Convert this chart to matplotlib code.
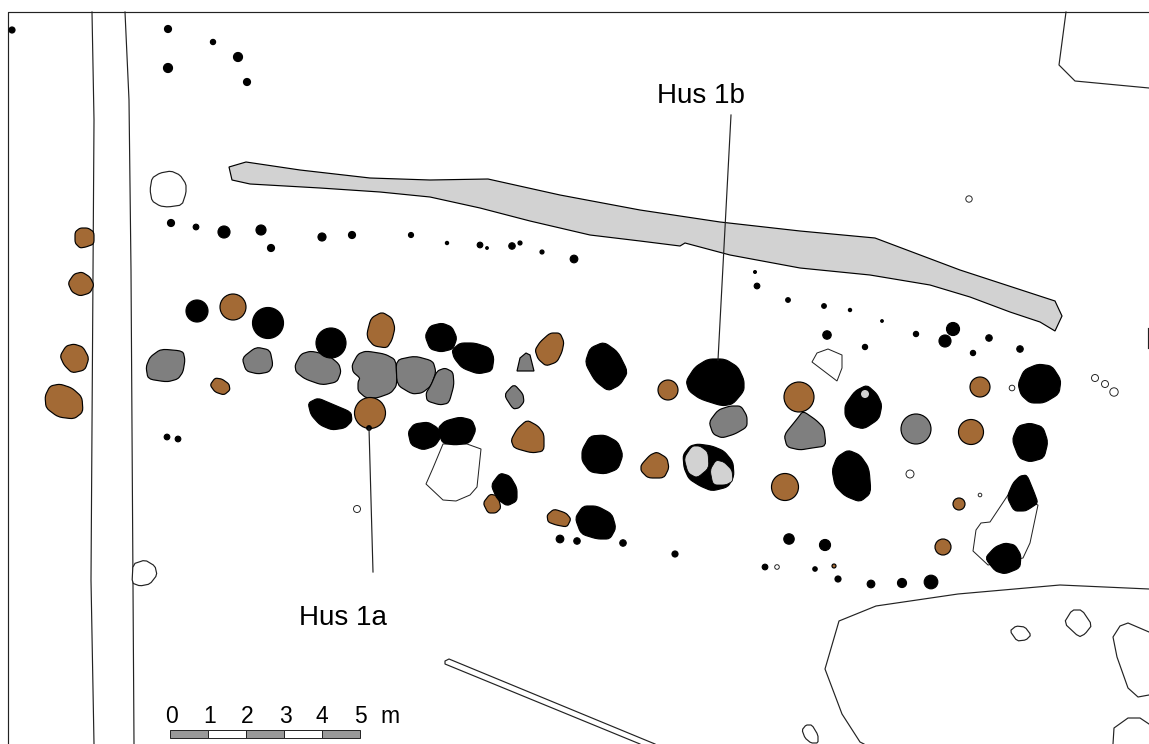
import matplotlib.pyplot as plt
from matplotlib.patches import Polygon, Circle, Rectangle

plt.rcParams['font.family'] = ['Liberation Sans', 'DejaVu Sans']

#Colours of the find types
BROWN = '#a36a35'
GREY = '#7f7f7f'
LIGHT = '#d2d2d2'

#Round features: x, y, radius in plan pixels
black_round = [(197, 311, 11), (268, 323, 15.5), (331, 343, 15),
               (12, 30, 3), (168, 29, 3.5), (238, 57, 4.5), (168, 68, 4.5), (247, 82, 3.5),
               (196, 227, 2.8), (224, 232, 6), (261, 230, 5), (271, 248, 3.5), (322, 237, 4),
               (352, 235, 3.5), (411, 235, 2.5), (447, 243, 1.6), (480, 245, 2.8), (487, 248, 1.3),
               (512, 246, 3.2), (520, 243, 2), (542, 252, 2), (574, 259, 3.8), (167, 437, 2.8),
               (178, 439, 2.8), (560, 539, 3.8), (577, 541, 3.2), (623, 543, 3.2), (789, 539, 5.2),
               (825, 545, 5.5), (675, 554, 3), (765, 567, 2.8), (815, 569, 2.2), (838, 579, 3),
               (871, 584, 3.8), (902, 583, 4.5), (931, 582, 6.8), (827, 335, 4.2), (865, 347, 2.6),
               (916, 334, 2.6), (953, 329, 6.5), (945, 341, 6), (989, 338, 3.2), (973, 353, 2.6),
               (1020, 349, 3.2), (755, 272, 1.4), (757, 286, 2.8), (788, 300, 2.3), (824, 306, 2.3),
               (850, 310, 1.6), (882, 321, 1.3), (369, 428, 2.3), (213, 42, 2.6), (171, 223, 3.5)]
brown_round = [(233, 307, 13), (370, 413, 15.5), (668, 390, 10), (799, 397, 15), (971, 432, 12.5),
               (980, 387, 10), (785, 487, 13.5), (959, 504, 6), (943, 547, 8), (834, 566, 2)]
grey_round = [(916, 429, 15)]
light_round = [(865, 394, 4)]
white_round = [(357, 509, 3.5), (910, 474, 4), (980, 495, 1.8), (777, 567, 2.3), (1012, 388, 2.8),
               (1095, 378, 3.5), (1105, 384, 3.5), (1114, 392, 4.2), (969, 199, 3.2)]

#Irregular features as outlines
black_shapes = [
    [(1018, 384), (1024, 370), (1038, 364), (1052, 366), (1061, 380), (1059, 394), (1044, 403), (1030, 403), (1021, 395)],
    [(425, 336), (430, 326), (442, 323), (452, 327), (457, 338), (453, 349), (441, 352), (430, 349)],
    [(452, 350), (460, 343), (475, 343), (490, 348), (494, 358), (492, 371), (478, 374), (462, 368), (454, 358)],
    [(585, 363), (590, 348), (604, 342), (618, 352), (628, 372), (620, 385), (608, 391), (595, 381)],
    [(308, 403), (318, 398), (332, 404), (351, 412), (352, 421), (345, 428), (332, 430), (320, 425), (311, 415)],
    [(408, 432), (414, 424), (428, 422), (438, 428), (441, 437), (435, 446), (423, 450), (411, 445)],
    [(438, 428), (445, 421), (460, 417), (472, 420), (476, 430), (470, 443), (455, 445), (442, 443)],
    [(582, 450), (590, 436), (605, 435), (618, 442), (623, 455), (618, 469), (605, 474), (590, 472), (582, 461)],
    [(491, 485), (500, 473), (510, 476), (517, 488), (517, 501), (507, 506), (497, 499)],
    [(575, 518), (583, 506), (597, 506), (612, 514), (616, 528), (610, 539), (597, 539), (581, 534)],
    [(686, 381), (695, 367), (708, 359), (725, 359), (738, 367), (744, 380), (744, 391), (733, 404), (722, 406), (700, 399), (689, 391)],
    [(845, 405), (855, 391), (867, 385), (877, 394), (882, 405), (879, 419), (864, 429), (852, 426), (845, 416)],
    [(1012, 440), (1018, 426), (1030, 423), (1043, 427), (1048, 442), (1044, 458), (1030, 462), (1019, 458)],
    [(683, 455), (690, 446), (698, 444), (712, 446), (724, 451), (733, 462), (734, 476), (728, 487), (712, 491), (700, 486), (689, 479), (684, 468)],
    [(832, 470), (837, 457), (848, 450), (860, 455), (869, 468), (871, 493), (860, 502), (845, 496), (835, 486)],
    [(1007, 497), (1013, 483), (1020, 476), (1027, 475), (1034, 492), (1038, 503), (1029, 509), (1025, 511), (1014, 511)],
    [(985, 558), (995, 547), (1005, 543), (1015, 545), (1021, 555), (1020, 568), (1005, 574), (995, 571)],
]
brown_shapes = [
    [(75, 232), (80, 228), (88, 228), (94, 232), (94, 244), (86, 247), (80, 248), (75, 243)],
    [(68, 283), (74, 274), (82, 272), (90, 277), (94, 285), (90, 293), (80, 296), (72, 292)],
    [(60, 356), (66, 346), (74, 344), (83, 347), (89, 358), (85, 370), (72, 373), (64, 365)],
    [(45, 396), (50, 386), (60, 384), (72, 388), (82, 397), (83, 412), (74, 419), (58, 417), (46, 408)],
    [(367, 333), (371, 318), (382, 312), (392, 318), (395, 328), (392, 340), (387, 348), (374, 346), (368, 339)],
    [(535, 350), (540, 342), (550, 333), (560, 333), (564, 342), (562, 352), (557, 362), (546, 366), (538, 359)],
    [(511, 440), (517, 429), (527, 420), (538, 426), (544, 434), (544, 451), (532, 453), (514, 448)],
    [(641, 465), (650, 455), (657, 452), (667, 458), (669, 468), (664, 478), (648, 478), (641, 471)],
    [(483, 503), (490, 494), (498, 496), (501, 508), (496, 513), (488, 513)],
    [(547, 515), (554, 509), (566, 513), (571, 519), (567, 527), (556, 525), (548, 522)],
    [(210, 385), (215, 378), (222, 379), (229, 384), (230, 390), (224, 395), (215, 392)],
]
grey_shapes = [
    [(146, 367), (150, 357), (161, 349), (183, 351), (185, 360), (183, 372), (178, 379), (167, 382), (148, 379)],
    [(242, 358), (256, 347), (270, 350), (273, 365), (269, 372), (258, 374), (246, 371)],
    [(295, 365), (301, 354), (311, 351), (328, 355), (339, 364), (341, 372), (337, 382), (322, 385), (305, 379), (296, 372)],
    [(352, 365), (358, 354), (366, 351), (385, 354), (396, 360), (397, 385), (391, 393), (377, 398), (366, 398), (358, 391), (358, 382), (360, 378), (353, 372)],
    [(396, 360), (415, 356), (433, 361), (436, 372), (431, 386), (422, 393), (412, 394), (397, 385)],
    [(437, 371), (445, 368), (453, 372), (454, 385), (449, 403), (440, 405), (427, 401), (426, 393), (431, 385)],
    [(504, 395), (514, 384), (523, 394), (524, 402), (519, 408), (513, 409)],
    [(709, 422), (718, 410), (730, 406), (741, 406), (747, 416), (747, 427), (735, 434), (722, 438), (713, 434)],
    [(784, 435), (797, 419), (803, 411), (816, 420), (824, 428), (826, 446), (812, 448), (800, 450), (787, 447)],
]
grey_angular = [[(517, 371), (520, 358), (526, 353), (530, 355), (534, 371)]]
light_shapes = [
    [(684, 458), (692, 446), (700, 446), (708, 452), (709, 468), (697, 478), (688, 473)],
    [(710, 470), (716, 460), (724, 462), (732, 470), (733, 481), (726, 485), (713, 485)],
]
white_shapes = [
    [(150, 190), (152, 178), (160, 173), (171, 171), (180, 175), (186, 184), (186, 193), (182, 205), (168, 207), (160, 206), (152, 201)],
    [(133, 564), (145, 560), (155, 566), (157, 575), (150, 584), (140, 586), (132, 583)],
    [(1010, 631), (1016, 626), (1025, 627), (1031, 635), (1026, 640), (1017, 641)],
    [(1064, 623), (1072, 610), (1082, 610), (1092, 625), (1085, 634), (1079, 637)],
    [(802, 730), (806, 725), (812, 725), (818, 735), (818, 743), (811, 743), (805, 738)],
]
#These keep their corners
white_angular = [
    [(443, 444), (467, 444), (481, 449), (477, 487), (470, 495), (456, 501), (443, 500), (426, 484), (433, 468)],
    [(812, 362), (817, 353), (828, 349), (842, 355), (842, 368), (837, 381)],
    [(1008, 495), (990, 522), (981, 523), (976, 530), (973, 551), (988, 565), (1023, 558), (1030, 543), (1038, 505)],
]
trench = [(229, 167), (246, 162), (300, 170), (370, 178), (430, 180), (488, 179), (560, 195), (640, 210), (720, 222),
          (800, 231), (875, 238), (960, 270), (1055, 301), (1062, 316), (1055, 331), (1040, 322), (1010, 312),
          (970, 297), (930, 285), (870, 275), (800, 268), (730, 255), (685, 243), (680, 246), (640, 241), (590, 235),
          (530, 221), (480, 208), (430, 197), (380, 192), (320, 188), (250, 184), (232, 180)]

#Open lines: frame, road, edges of later features
open_lines = [
    [(8, 744), (8, 12), (1149, 12)],
    [(92, 12), (94, 120), (91, 580), (94, 744)],
    [(125, 12), (129, 100), (131, 270), (134, 744)],
    [(1066, 12), (1059, 65), (1075, 81), (1149, 88)],
    [(1149, 589), (1060, 585), (958, 594), (876, 606), (839, 621), (825, 669), (842, 714), (860, 742), (864, 744)],
    [(1149, 632), (1128, 623), (1120, 626), (1113, 637), (1117, 657), (1128, 688), (1138, 697), (1149, 695)],
    [(1113, 744), (1114, 728), (1128, 718), (1140, 718), (1149, 724)],
    [(640, 744), (445, 664), (445, 661), (449, 659), (655, 744)],
    [(1148, 328), (1148, 348)],
]
leaders = [[(731, 115), (718, 360)], [(369, 428), (373, 572)]]

labels = ['Hus 1b', 'Hus 1a']
label_pos = [(701, 96), (343, 618)]

scale_ticks = ['0', '1', '2', '3', '4', '5']
scale_tick_x = [172, 210, 247, 285, 322, 360]
scale_fill = ['#999999', 'white', '#999999', 'white', '#999999']


#Soften the outline corners by cutting them
def smooth(pts, rounds=2, cut=0.17):
    for _ in range(rounds):
        new = []
        for i, (x, y) in enumerate(pts):
            x2, y2 = pts[(i + 1) % len(pts)]
            new.append(((1 - cut) * x + cut * x2, (1 - cut) * y + cut * y2))
            new.append((cut * x + (1 - cut) * x2, cut * y + (1 - cut) * y2))
        pts = new
    return pts


fig = plt.figure(figsize=(11.49, 7.44), dpi=100, facecolor='white')
ax = fig.add_axes([0, 0, 1, 1])
ax.set_xlim(0, 1149)
ax.set_ylim(744, 0)
ax.axis('off')

LW = 0.85

for line in open_lines:
    ax.plot(*zip(*line), color='#222222', lw=LW, zorder=1, solid_joinstyle='round')

ax.add_patch(Polygon(trench, fc=LIGHT, ec='black', lw=LW, zorder=2))

for s in white_angular:
    ax.add_patch(Polygon(s, fc='white', ec='#222222', lw=LW * 0.85, zorder=2))
for s in white_shapes:
    ax.add_patch(Polygon(smooth(s, 1), fc='white', ec='#222222', lw=LW, zorder=2))
for x, y, r in white_round:
    ax.add_patch(Circle((x, y), r, fc='white', ec='#222222', lw=LW * 0.8, zorder=2))

for shapes, color in [(grey_shapes, GREY), (brown_shapes, BROWN), (black_shapes, 'black')]:
    for s in shapes:
        ax.add_patch(Polygon(smooth(s), fc=color, ec='black', lw=LW, zorder=3))
for s in grey_angular:
    ax.add_patch(Polygon(s, fc=GREY, ec='black', lw=LW, zorder=3))
for rounds, color in [(grey_round, GREY), (brown_round, BROWN), (black_round, 'black')]:
    for x, y, r in rounds:
        ax.add_patch(Circle((x, y), r, fc=color, ec='black', lw=LW, zorder=3))

for s in light_shapes:
    ax.add_patch(Polygon(smooth(s), fc=LIGHT, ec='black', lw=LW * 0.7, zorder=4))
for x, y, r in light_round:
    ax.add_patch(Circle((x, y), r, fc=LIGHT, ec='none', zorder=4))

for line in leaders:
    ax.plot(*zip(*line), color='#222222', lw=LW, zorder=5)

for text, (x, y) in zip(labels, label_pos):
    ax.text(x, y, text, fontsize=20, ha='center', va='center', color='black', zorder=6)

#Scale bar
for i, c in enumerate(scale_fill):
    ax.add_patch(Rectangle((170 + i * 38, 730), 38, 8, fc=c, ec='#222222', lw=0.7, zorder=5))
for t, x in zip(scale_ticks, scale_tick_x):
    ax.text(x, 723, t, fontsize=16.5, ha='center', va='baseline', color='black')
ax.text(390, 723, 'm', fontsize=16.5, ha='center', va='baseline', color='black')

fig.savefig('out.png', dpi=100)
